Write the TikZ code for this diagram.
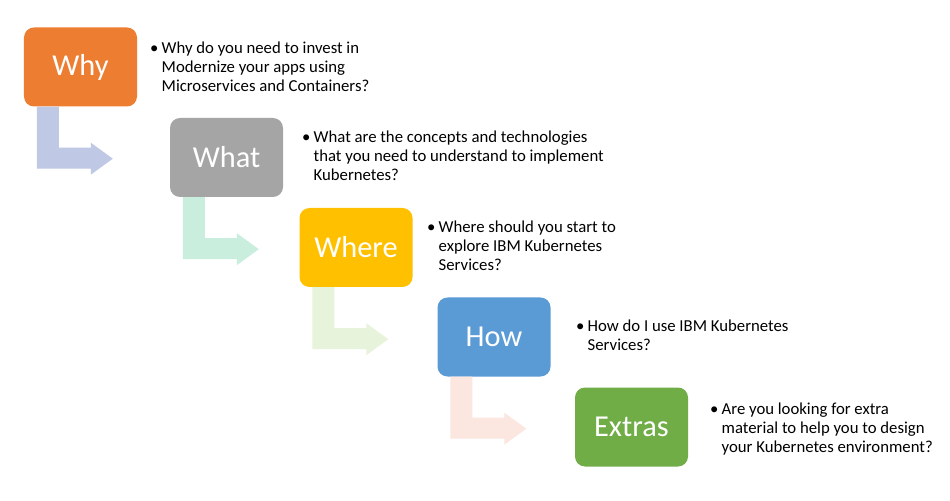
\documentclass[tikz,border=0pt]{standalone}
\usepackage{fontspec}
\setmainfont{Carlito}
\usetikzlibrary{calc}
\definecolor{cwhy}{HTML}{ED7D31}
\definecolor{cwhat}{HTML}{A5A5A5}
\definecolor{cwhere}{HTML}{FFC000}
\definecolor{chow}{HTML}{5B9BD5}
\definecolor{cextra}{HTML}{70AD47}
\definecolor{awhy}{HTML}{BFC8E5}
\definecolor{awhat}{HTML}{C9EEDE}
\definecolor{awhere}{HTML}{E7F4DB}
\definecolor{ahow}{HTML}{FBE6E0}
\newcommand\bentarr[2]{%
  \begin{scope}[shift={(#1.south west)}]
    \fill[#2] (13,0) -- (35,0) -- (35,41) -- (67,41) -- (67,36) -- (89,52)
      -- (67,68) -- (67,62) -- (13,62) -- cycle;
  \end{scope}}
\newcommand\bulletlines[1]{\begin{tabular}{@{}p{11.5bp}@{}l@{}}\textbullet & #1\end{tabular}}
\begin{document}
\begin{tikzpicture}[x=1bp,y=-1bp,
  stepbox/.style={rounded corners=10bp, minimum width=113bp, minimum height=79bp,
    inner sep=0pt, text=white, font=\fontsize{30.5}{36}\selectfont},
  desc/.style={anchor=west, inner sep=0pt, font=\fontsize{16.8}{19}\selectfont}]
\useasboundingbox[fill=white] (0,0) rectangle (950,501);
\node[stepbox, fill=cwhy]   (why)   at (80.5,67)  {Why};
\node[stepbox, fill=cwhat]  (what)  at (226.5,157.5) {What};
\node[stepbox, fill=cwhere] (where) at (356,247.5) {Where};
\node[stepbox, fill=chow]   (how)   at (494,337)  {How};
\node[stepbox, fill=cextra] (extra) at (631.5,427) {Extras};
\bentarr{why}{awhy}
\bentarr{what}{awhat}
\bentarr{where}{awhere}
\bentarr{how}{ahow}
\node[desc] (twhy) at (150,69) {\bulletlines{Why do you need to invest in\\ & Modernize your apps using\\ & Microservices and Containers?}};
\node[desc] (twhat) at (302,157.5) {\bulletlines{What are the concepts and technologies\\ & that you need to understand to implement\\ & Kubernetes?}};
\node[desc] (twhere) at (427,248) {\bulletlines{Where should you start to\\ & explore IBM Kubernetes\\ & Services?}};
\node[desc] (thow) at (576,337.5) {\bulletlines{How do I use IBM Kubernetes\\ & Services?}};
\node[desc] (textra) at (710,430) {\bulletlines{Are you looking for extra\\ & material to help you to design\\ & your Kubernetes environment?}};
\end{tikzpicture}
\end{document}
